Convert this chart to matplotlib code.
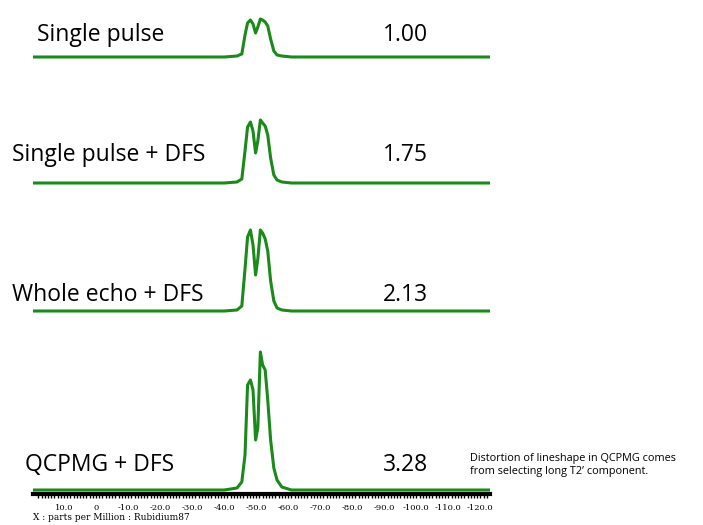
import matplotlib
matplotlib.use("Agg")
import matplotlib.pyplot as plt
import numpy as np

labels = ["Single pulse", "Single pulse + DFS", "Whole echo + DFS", "QCPMG + DFS"]
ratios = ["1.00", "1.75", "2.13", "3.28"]
ppm = [25, -40, -44, -45.5, -46.5, -47.3, -48.2, -49, -49.8, -50.5, -51.3, -52, -52.8, -53.6, -54.5, -55.5, -56.5, -58, -61, -130]
spec1 = [0, 0, 1, 3, 22, 34, 37, 33, 24, 30, 38, 37, 35, 31, 18, 6, 2, 1, 0, 0]
spec2 = [0, 0, 1, 4, 32, 56, 61, 52, 30, 42, 63, 60, 57, 48, 25, 8, 3, 1, 0, 0]
spec3 = [0, 0, 1, 5, 42, 74, 81, 66, 36, 52, 81, 78, 72, 60, 30, 10, 3, 1, 0, 0]
spec4 = [0, 0, 2, 8, 35, 105, 110, 100, 50, 62, 138, 125, 120, 90, 50, 22, 10, 3, 0, 0]
specs = [spec1, spec2, spec3, spec4]
tick_vals = [10, 0, -10, -20, -30, -40, -50, -60, -70, -80, -90, -100, -110, -120]

W, H = 703, 525
fig = plt.figure(figsize=(W/100, H/100), dpi=100)
baselines = [57, 183, 311, 490]
text_y = [35, 155, 295, 465]
text_x = [37, 12, 12, 25]
green = "#1a8a1a"
xl, xr = 33, 490
for i, (s, b) in enumerate(zip(specs, baselines)):
    ax = fig.add_axes([xl/W, (H-b-5)/H, (xr-xl)/W, 150/H])
    ax.plot(ppm, s, color=green, lw=2.2)
    ax.set_xlim(19.7, -123)
    ax.set_ylim(-5, 145)
    ax.axis("off")
    fig.text(text_x[i]/W, 1-text_y[i]/H, labels[i],
             fontsize=16.5, family="Open Sans", va="center", ha="left")
    fig.text(383/W, 1-text_y[i]/H, ratios[i], fontsize=16.5, family="Open Sans", va="center", ha="left")

axb = fig.add_axes([xl/W, (H-494)/H, (xr-xl)/W, 0.001])
axb.set_xlim(19.7, -123)
axb.set_yticks([])
for sp in ["left", "right", "top"]:
    axb.spines[sp].set_visible(False)
axb.spines["bottom"].set_linewidth(3)
axb.set_xticks(tick_vals)
axb.set_xticklabels([f"{v:.1f}" if v != 0 else "0" for v in tick_vals], family="DejaVu Serif", fontsize=6)
axb.set_xticks(np.arange(18, -123, -1.0), minor=True)
axb.tick_params(axis="x", length=3, width=1, pad=4)
axb.tick_params(axis="x", which="minor", length=3, width=1)
fig.text(33/W, 1-517/H, "X : parts per Million : Rubidium87", fontsize=6.5, family="DejaVu Serif", va="center")
fig.text(470/W, 1-465/H, "Distortion of lineshape in QCPMG comes\nfrom selecting long T2\u2019 component.",
         fontsize=7.8, family="Open Sans", va="center", linespacing=1.35)
fig.savefig("out.png", dpi=100)
